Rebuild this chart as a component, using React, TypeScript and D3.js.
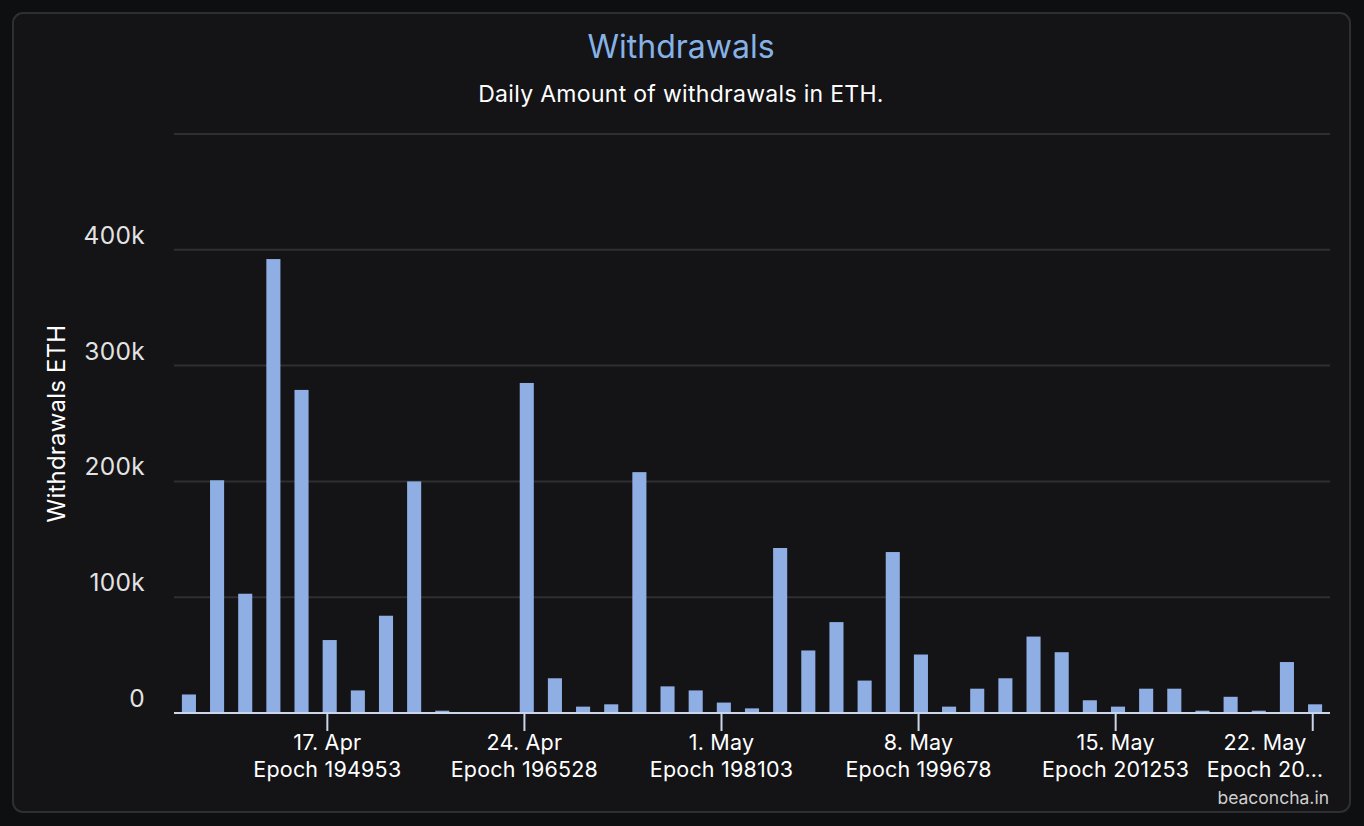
import React from 'react';
import * as d3 from 'd3';

// ---------- data ----------
const firstDay = '2023-04-12';
const lastDay = '2023-05-22';
const withdrawalsEth = [
  16000, 201000, 103000, 392000, 279000, 63000, 19500, 84000, 200000, 2000,
  0, 0, 285000, 30000, 5500, 7500, 208000, 23000, 19500, 9000,
  4000, 142500, 54000, 78500, 28000, 139000, 50500, 5500, 21000, 30000,
  66000, 52500, 11000, 5500, 21000, 21000, 2000, 14000, 2000, 44000, 7500,
];
const xTickDates = ['2023-04-17', '2023-04-24', '2023-05-01', '2023-05-08', '2023-05-15', '2023-05-22'];
const xTickDateLabels = ['17. Apr', '24. Apr', '1. May', '8. May', '15. May', '22. May'];
const xTickEpochLabels = ['Epoch 194953', 'Epoch 196528', 'Epoch 198103', 'Epoch 199678', 'Epoch 201253', 'Epoch 20…'];
const yTicks = [0, 100000, 200000, 300000, 400000, 500000];
const yTickLabels = ['0', '100k', '200k', '300k', '400k', ''];

const W = 1364;
const H = 826;
const FONT = 'Inter, "Noto Sans", sans-serif';
const HOUR = 3600 * 1000;
const DAY = 24 * HOUR;

export default function App() {
  const plotLeft = 174;
  const plotRight = 1330;
  const plotTop = 134;
  const plotBottom = 713;

  const days = d3.utcDay.range(new Date(firstDay + 'T00:00:00Z'), d3.utcDay.offset(new Date(lastDay + 'T00:00:00Z'), 1));
  // points are stored at UTC midnight, axis shows local (UTC+2) midnight
  const pointTimes = days.map((d) => d.getTime() + 2 * HOUR);
  const pad = 0.53 * DAY;

  const x = d3
    .scaleUtc()
    .domain([new Date(pointTimes[0] - pad), new Date(pointTimes[pointTimes.length - 1] + pad)])
    .range([plotLeft, plotRight]);
  const y = d3.scaleLinear().domain([0, 500000]).range([plotBottom, plotTop]);

  const dayPx = x(new Date(pointTimes[0] + DAY)) - x(new Date(pointTimes[0]));
  const barW = dayPx * 0.5;

  const tickXs = xTickDates.map((d) => x(new Date(d + 'T00:00:00Z')));

  return (
    <svg
      width={W}
      height={H}
      style={{ position: 'fixed', left: 0, top: 0, display: 'block' }}
      fontFamily={FONT}
    >
      <rect x={0} y={0} width={W} height={H} fill="#0e0f11" />
      <rect x={13} y={13} width={1337} height={799} rx={10} ry={10} fill="#141316" stroke="#2e2f33" strokeWidth={2} />

      <text x={681} y={58} textAnchor="middle" fill="#86b2e6" fontSize={32}>
        Withdrawals
      </text>
      <text x={681} y={102} textAnchor="middle" fill="#ffffff" fontSize={23} letterSpacing={0.3}>
        Daily Amount of withdrawals in ETH.
      </text>

      {/* grid */}
      {yTicks.map((t) => (
        <line key={t} x1={plotLeft} x2={plotRight} y1={y(t)} y2={y(t)} stroke="#2f2f32" strokeWidth={2} />
      ))}
      {yTicks.map((t, i) => (
        <text key={'yl' + t} x={145} y={y(t) - 6} textAnchor="end" fill="#e3e3e3" fontSize={24.5} letterSpacing={0.3}>
          {yTickLabels[i]}
        </text>
      ))}
      <text
        transform={`translate(65, ${(plotTop + plotBottom) / 2}) rotate(-90)`}
        textAnchor="middle"
        fill="#ffffff"
        fontSize={24}
        letterSpacing={0.2}
      >
        Withdrawals ETH
      </text>

      {/* bars */}
      {withdrawalsEth.map((v, i) =>
        v > 0 ? (
          <rect
            key={i}
            x={x(new Date(pointTimes[i])) - barW / 2}
            y={y(v)}
            width={barW}
            height={plotBottom - y(v)}
            fill="#8fafe4"
          />
        ) : null
      )}

      {/* x axis */}
      <line x1={plotLeft} x2={plotRight} y1={plotBottom} y2={plotBottom} stroke="#ccd6eb" strokeWidth={2} />
      {tickXs.map((tx, i) => {
        const cx = Math.min(tx, plotRight - 65);
        return (
          <g key={'xt' + i}>
            <line x1={tx} x2={tx} y1={plotBottom} y2={plotBottom + 18} stroke="#ccd6eb" strokeWidth={2} />
            <text x={cx} y={plotBottom + 37} textAnchor="middle" fill="#ffffff" fontSize={21.5} letterSpacing={0.2}>
              {xTickDateLabels[i]}
            </text>
            <text x={cx} y={plotBottom + 64} textAnchor="middle" fill="#ffffff" fontSize={21.5} letterSpacing={0.2}>
              {xTickEpochLabels[i]}
            </text>
          </g>
        );
      })}

      <text x={1329} y={804} textAnchor="end" fill="#cfcfcf" fontSize={17.5}>
        beaconcha.in
      </text>
    </svg>
  );
}
